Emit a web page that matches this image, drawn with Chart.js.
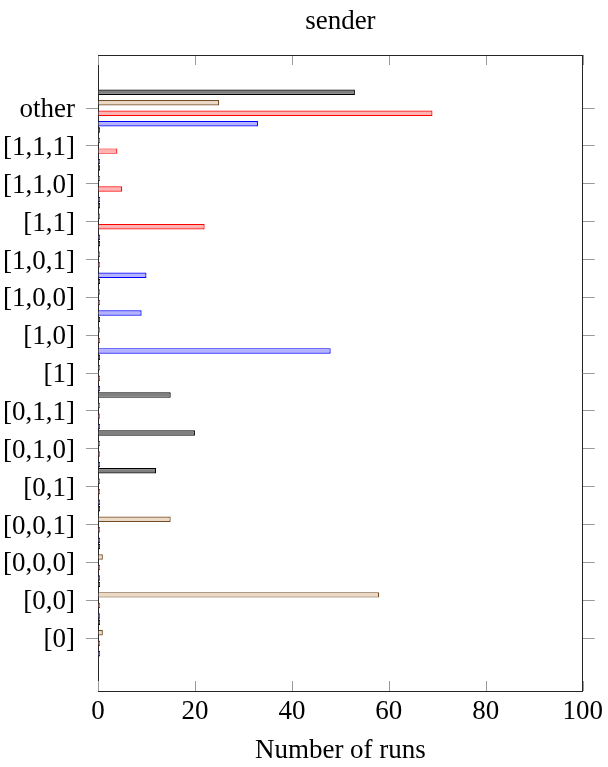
<!DOCTYPE html>
<html>
<head>
<meta charset="utf-8">
<title>sender</title>
<script src="https://cdn.jsdelivr.net/npm/chart.js@4.4.1/dist/chart.umd.min.js"></script>
<style>
  html, body { margin: 0; padding: 0; background: #fff; }
  #wrap { width: 608px; height: 767px; }
</style>
</head>
<body>
<div id="wrap"><canvas id="chart" width="608" height="767"></canvas></div>
<script>
// Sequence categories, bottom to top
const categories = ['[0]', '[0,0]', '[0,0,0]', '[0,0,1]', '[0,1]', '[0,1,0]', '[0,1,1]',
                    '[1]', '[1,0]', '[1,0,0]', '[1,0,1]', '[1,1]', '[1,1,0]', '[1,1,1]', 'other'];

// Number of runs per category, one array per series
const blueRuns  = [0, 0, 0, 0, 0, 0, 0, 0, 48, 9, 10, 0, 0, 0, 33];
const redRuns   = [0, 0, 0, 0, 0, 0, 0, 0, 0, 0, 0, 22, 5, 4, 69];
const brownRuns = [1, 58, 1, 15, 0, 0, 0, 0, 0, 0, 0, 0, 0, 0, 25];
const blackRuns = [0, 0, 0, 0, 12, 20, 15, 0, 0, 0, 0, 0, 0, 0, 53];

// Value axis ticks
const xTicks = [0, 20, 40, 60, 80, 100];

const FONT = 'Liberation Serif, Times New Roman, serif';
const TICK_GRAY = '#9a9a9a';
const FRAME = '#262626';

function points(values) {
  return values.map((v, i) => ({ x: v, y: i }));
}

function categoryTicks(scale) {
  scale.ticks = categories.map((c, i) => ({ value: i }));
}

// Frame top edge and the inward tick marks of the value axis
const frameTicks = {
  id: 'frameTicks',
  beforeDatasetsDraw(chart) {
    const { ctx, chartArea: a, scales } = chart;
    const x = scales.x;
    ctx.save();
    ctx.lineWidth = 1;
    ctx.strokeStyle = TICK_GRAY;
    x.ticks.forEach(t => {
      const px = Math.round(x.getPixelForValue(t.value)) + 0.5;
      ctx.beginPath();
      ctx.moveTo(px, a.bottom);
      ctx.lineTo(px, a.bottom - 10);
      ctx.moveTo(px, a.top);
      ctx.lineTo(px, a.top + 10);
      ctx.stroke();
    });
    ctx.strokeStyle = FRAME;
    ctx.beginPath();
    ctx.moveTo(a.left, Math.round(a.top) + 0.5);
    ctx.lineTo(a.right, Math.round(a.top) + 0.5);
    ctx.stroke();
    ctx.restore();
  }
};

const series = [
  { data: blackRuns, fill: '#808080', line: '#000000' },
  { data: brownRuns, fill: '#ecd9c6', line: '#734d26' },
  { data: redRuns,   fill: '#ffb3b3', line: '#ff0000' },
  { data: blueRuns,  fill: '#b3b3ff', line: '#0000ff' }
];

const categoryAxis = (position, width, showLabels) => ({
  type: 'linear',
  position,
  min: -1.4,
  max: 15.4,
  offset: false,
  afterBuildTicks: categoryTicks,
  afterFit: s => { s.width = width; },
  grid: { offset: false, drawOnChartArea: false, drawTicks: true, tickLength: 12, color: TICK_GRAY },
  border: { display: true, color: FRAME, width: 1 },
  ticks: showLabels ? {
    color: '#000',
    padding: 11,
    labelOffset: 2,
    autoSkip: false,
    font: { family: FONT, size: 27 },
    callback: v => categories[v]
  } : { display: false }
});

new Chart(document.getElementById('chart'), {
  type: 'bar',
  data: {
    datasets: series.map(s => ({
      data: points(s.data),
      backgroundColor: s.fill,
      borderColor: s.line,
      borderWidth: 1.2,
      minBarLength: 2,
      categoryPercentage: 1.11,
      barPercentage: 0.52
    }))
  },
  options: {
    indexAxis: 'y',
    responsive: false,
    animation: false,
    layout: { padding: 0 },
    plugins: {
      legend: { display: false },
      tooltip: { enabled: false },
      title: {
        display: true,
        text: 'sender',
        fullSize: false,
        color: '#000',
        font: { family: FONT, size: 27, weight: 'normal' },
        padding: { top: 6, bottom: 16.6 }
      }
    },
    scales: {
      x: {
        type: 'linear',
        position: 'bottom',
        min: 0,
        max: 100,
        afterBuildTicks: s => { s.ticks = xTicks.map(v => ({ value: v })); },
        afterFit: s => { s.height = 76; },
        grid: { display: true, drawOnChartArea: false, drawTicks: false },
        border: { display: true, color: FRAME, width: 1 },
        ticks: {
          color: '#000',
          padding: 5,
          font: { family: FONT, size: 27 }
        },
        title: {
          display: true,
          text: 'Number of runs',
          color: '#000',
          font: { family: FONT, size: 27 },
          padding: { top: 0, bottom: 0 }
        }
      },
      y: categoryAxis('left', 98, true),
      y2: categoryAxis('right', 25, false)
    }
  },
  plugins: [frameTicks]
});
</script>
</body>
</html>
